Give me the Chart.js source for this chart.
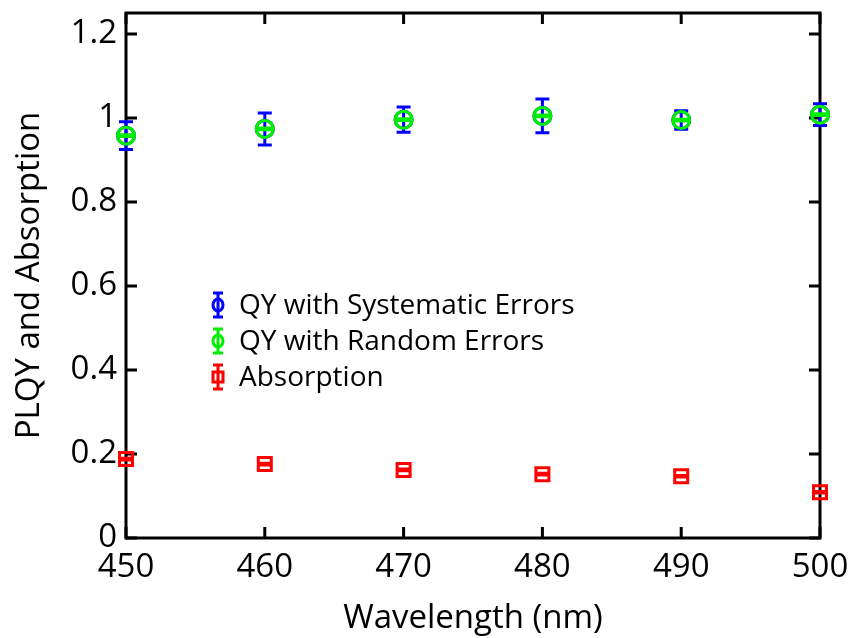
<!DOCTYPE html>
<html>
<head>
<meta charset="utf-8">
<title>PLQY and Absorption</title>
<script src="https://cdn.jsdelivr.net/npm/chart.js@4.4.0/dist/chart.umd.min.js"></script>
<style>
  html, body { margin: 0; padding: 0; background: #fff; }
  #wrap { width: 858px; height: 638px; }
</style>
</head>
<body>
<div id="wrap"><canvas id="grafico" width="858" height="638"></canvas></div>
<script>
"use strict";

// datos
const wavelengths = [450, 460, 470, 480, 490, 500];
const qySystematic = [0.958, 0.974, 0.996, 1.005, 0.995, 1.008];
const qySystematicErr = [0.033, 0.038, 0.030, 0.040, 0.022, 0.026];
const qyRandom = [0.958, 0.974, 0.996, 1.005, 0.995, 1.008];
const qyRandomErr = [0.002, 0.002, 0.002, 0.002, 0.002, 0.002];
const absorption = [0.188, 0.176, 0.162, 0.152, 0.147, 0.109];
const absorptionErr = [0.002, 0.002, 0.002, 0.002, 0.002, 0.002];
const xTicks = [450, 460, 470, 480, 490, 500];
const yTicks = [0, 0.2, 0.4, 0.6, 0.8, 1, 1.2];
const legendLabels = ["QY with Systematic Errors", "QY with Random Errors", "Absorption"];

const FONT = "'Open Sans', 'Noto Sans', sans-serif";

function puntos(xs, ys) {
    return xs.map((x, i) => ({ x: x, y: ys[i] }));
}

////////////////////////////////////////////////////// barras de error
const errorBars = {
    id: "errorBars",
    afterDatasetDraw(chart, args) {
        const ds = chart.data.datasets[args.index];
        if (!ds.errors) return;
        const ctx = chart.ctx;
        const sx = chart.scales.x, sy = chart.scales.y;
        ctx.save();
        ctx.strokeStyle = ds.borderColor;
        ctx.lineWidth = 3;
        ds.data.forEach((p, i) => {
            const px = sx.getPixelForValue(p.x);
            const top = sy.getPixelForValue(p.y + ds.errors[i]);
            const bot = sy.getPixelForValue(p.y - ds.errors[i]);
            ctx.beginPath();
            ctx.moveTo(px, top); ctx.lineTo(px, bot);
            ctx.moveTo(px - 7, top); ctx.lineTo(px + 7, top);
            ctx.moveTo(px - 7, bot); ctx.lineTo(px + 7, bot);
            ctx.stroke();
        });
        ctx.restore();
    },
};

////////////////////////////////////////////////////// marco y ticks hacia dentro
const marco = {
    id: "marco",
    beforeDatasetsDraw(chart) {
        const ctx = chart.ctx;
        const a = chart.chartArea;
        const sx = chart.scales.x, sy = chart.scales.y;
        const tl = 11;
        ctx.save();
        ctx.strokeStyle = "#000";
        ctx.lineWidth = 3;
        ctx.lineCap = "square";
        ctx.strokeRect(a.left, a.top, a.right - a.left, a.bottom - a.top);
        ctx.lineCap = "butt";
        ctx.beginPath();
        xTicks.forEach((v) => {
            const px = sx.getPixelForValue(v);
            ctx.moveTo(px, a.bottom); ctx.lineTo(px, a.bottom - tl);
            ctx.moveTo(px, a.top); ctx.lineTo(px, a.top + tl);
        });
        yTicks.forEach((v) => {
            const py = sy.getPixelForValue(v);
            ctx.moveTo(a.left, py); ctx.lineTo(a.left + tl, py);
            ctx.moveTo(a.right, py); ctx.lineTo(a.right - tl, py);
        });
        ctx.stroke();
        ctx.restore();
    },
};

////////////////////////////////////////////////////// leyenda dentro del grafico
const leyenda = {
    id: "leyenda",
    afterDraw(chart) {
        const ctx = chart.ctx;
        const a = chart.chartArea;
        const symX = a.left + 92;
        const textX = a.left + 113;
        const y0 = a.top + 292;
        const paso = 36;
        ctx.save();
        ctx.font = "28px " + FONT;
        ctx.textBaseline = "middle";
        ctx.fillStyle = "#000";
        chart.data.datasets.forEach((ds, i) => {
            const y = y0 + i * paso;
            ctx.strokeStyle = ds.borderColor;
            ctx.lineWidth = 3;
            ctx.beginPath();
            ctx.moveTo(symX, y - 12); ctx.lineTo(symX, y + 12);
            ctx.moveTo(symX - 5, y - 12); ctx.lineTo(symX + 5, y - 12);
            ctx.moveTo(symX - 5, y + 12); ctx.lineTo(symX + 5, y + 12);
            ctx.stroke();
            ctx.beginPath();
            if (ds.pointStyle === "rect") {
                ctx.rect(symX - 5, y - 5, 10, 10);
            } else {
                ctx.ellipse(symX, y, 5, 6, 0, 0, Math.PI * 2);
            }
            ctx.stroke();
            ctx.fillText(legendLabels[i], textX, y + 1);
        });
        ctx.restore();
    },
};

////////////////////////////////////////////////////// grafico
const ctx = document.getElementById("grafico").getContext("2d");
new Chart(ctx, {
    type: "scatter",
    data: {
        datasets: [
            {
                label: legendLabels[0],
                data: puntos(wavelengths, qySystematic),
                errors: qySystematicErr,
                borderColor: "#0000ff",
                backgroundColor: "rgba(0,0,0,0)",
                pointStyle: "circle",
                pointRadius: 8.5,
                pointBorderWidth: 3,
                clip: false,
                order: 3,
            },
            {
                label: legendLabels[1],
                data: puntos(wavelengths, qyRandom),
                errors: qyRandomErr,
                borderColor: "#00ee00",
                backgroundColor: "rgba(0,0,0,0)",
                pointStyle: "circle",
                pointRadius: 8.5,
                pointBorderWidth: 3,
                clip: false,
                order: 2,
            },
            {
                label: legendLabels[2],
                data: puntos(wavelengths, absorption),
                errors: absorptionErr,
                borderColor: "#ff0000",
                backgroundColor: "rgba(0,0,0,0)",
                pointStyle: "rect",
                pointRadius: 9.2,
                pointBorderWidth: 3,
                clip: false,
                order: 1,
            },
        ],
    },
    options: {
        responsive: false,
        animation: false,
        layout: { padding: { left: 0, top: 13, right: 38, bottom: 0 } },
        plugins: {
            legend: { display: false },
            tooltip: { enabled: false },
        },
        scales: {
            x: {
                type: "linear",
                min: 450,
                max: 500,
                afterBuildTicks: (s) => { s.ticks = xTicks.map((v) => ({ value: v })); },
                afterFit: (s) => { s.height = 100; s.paddingLeft = 0; s.paddingRight = 0; },
                grid: { display: false, drawTicks: false },
                border: { display: false },
                ticks: {
                    color: "#000",
                    padding: 10,
                    font: { family: FONT, size: 33 },
                    maxRotation: 0,
                },
                title: {
                    display: true,
                    text: "Wavelength (nm)",
                    color: "#000",
                    font: { family: FONT, size: 33 },
                    padding: { top: 0, bottom: 0 },
                },
            },
            y: {
                type: "linear",
                min: 0,
                max: 1.25,
                afterBuildTicks: (s) => { s.ticks = yTicks.map((v) => ({ value: v })); },
                afterFit: (s) => { s.width = 126; s.paddingTop = 0; s.paddingBottom = 0; },
                grid: { display: false, drawTicks: false },
                border: { display: false },
                ticks: {
                    color: "#000",
                    padding: 9,
                    font: { family: FONT, size: 33 },
                    callback: (v) => String(Math.round(v * 10) / 10),
                },
                title: {
                    display: true,
                    text: "PLQY and Absorption",
                    color: "#000",
                    font: { family: FONT, size: 33 },
                    padding: { top: 10, bottom: 0 },
                },
            },
        },
    },
    plugins: [marco, errorBars, leyenda],
});
</script>
</body>
</html>
